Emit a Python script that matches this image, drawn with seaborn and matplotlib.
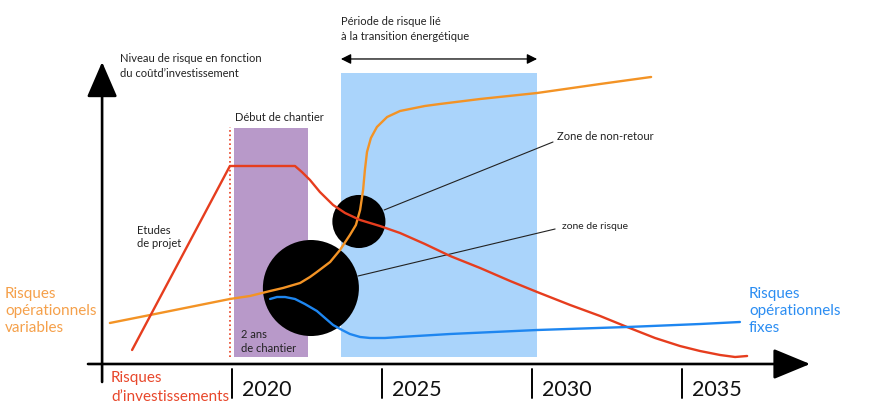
import matplotlib
matplotlib.use("Agg")
import matplotlib.pyplot as plt
import seaborn as sns
import pandas as pd

# schema risque / temps (x en annees, y en niveau de risque)
red_x = [2016.67, 2019.93, 2022.10, 2022.33, 2022.60, 2022.93, 2023.37, 2023.77, 2024.27,
         2024.93, 2025.60, 2026.43, 2027.27, 2028.27, 2029.27, 2030.17, 2031.27, 2032.27,
         2033.17, 2034.10, 2034.93, 2035.60, 2036.27, 2036.77, 2037.17]
red_y = [4.67, 66.0, 66.0, 64.0, 61.33, 57.33, 53.0, 50.33, 48.0,
         46.0, 43.67, 40.0, 36.0, 32.0, 27.67, 24.0, 19.67, 16.0,
         12.33, 8.67, 6.0, 4.33, 3.0, 2.33, 2.67]

orange_x = [2015.93, 2017.27, 2018.60, 2019.93, 2020.60, 2021.27, 2021.70, 2022.27, 2022.60,
            2022.83, 2023.27, 2023.60, 2023.93, 2024.13, 2024.27, 2024.37, 2024.43, 2024.50,
            2024.63, 2024.83, 2025.17, 2025.60, 2026.43, 2026.93, 2028.27, 2030.17, 2032.27,
            2033.97]
orange_y = [13.67, 16.33, 19.0, 21.67, 22.67, 24.33, 25.33, 27.0, 29.0,
            30.67, 34.0, 38.0, 43.0, 46.33, 51.33, 58.0, 64.67, 70.67,
            75.33, 79.0, 82.33, 84.33, 86.0, 86.67, 88.33, 90.33, 93.33,
            95.67]

blue_x = [2021.27, 2021.50, 2021.77, 2022.10, 2022.43, 2022.83, 2023.10, 2023.37, 2023.67,
          2023.93, 2024.27, 2024.60, 2025.10, 2025.60, 2027.27, 2030.17, 2033.17, 2035.60,
          2036.93]
blue_y = [21.67, 22.33, 22.33, 21.67, 20.0, 17.67, 15.33, 13.0, 11.33,
          10.0, 9.0, 8.67, 8.67, 9.0, 10.0, 11.33, 12.33, 13.33,
          14.0]

# zones (cercles noirs)
zone_x = [2022.63, 2024.23]
zone_y = [25.33, 47.5]
zone_size = [4780, 1460]

years = [2020, 2025, 2030, 2035]
chantier = (2020.07, 2022.53)
transition = (2023.63, 2030.17)

RED = "#e63d1e"
ORANGE = "#f39325"
BLUE = "#1e86f0"

sns.set_theme(style="white")
plt.rcParams['font.family'] = ['Lato', 'DejaVu Sans']

fig = plt.figure(figsize=(8.75, 4.09), dpi=100)
ax = fig.add_axes([0, 0, 1, 1])
ax.set_xlim(2012.267, 2041.433)
ax.set_ylim(-15, 121.33)
ax.axis("off")

# zones colorees
ax.bar(chantier[0], 78.67 - 2.33, width=chantier[1] - chantier[0], bottom=2.33,
       align="edge", color="#b899c9", linewidth=0, zorder=1)
ax.bar(transition[0], 97.0 - 2.33, width=transition[1] - transition[0], bottom=2.33,
       align="edge", color="#aad4fb", linewidth=0, zorder=1)
ax.plot([2019.93, 2019.93], [2.33, 79.0], ls=":", color=RED, lw=1.2, zorder=2)

# cercles
sns.scatterplot(x=zone_x, y=zone_y, s=zone_size, color="black", linewidth=0,
                ax=ax, zorder=3, legend=False)
ax.plot([2024.2, 2030.77], [29.33, 45.0], color="#222222", lw=0.8, zorder=4)
ax.plot([2025.07, 2030.70], [51.33, 74.0], color="#222222", lw=0.8, zorder=4)

# courbes
df = pd.concat([
    pd.DataFrame({"x": orange_x, "y": orange_y, "serie": "orange"}),
    pd.DataFrame({"x": red_x, "y": red_y, "serie": "red"}),
    pd.DataFrame({"x": blue_x, "y": blue_y, "serie": "blue"}),
])
sns.lineplot(data=df, x="x", y="y", hue="serie", sort=False, estimator=None,
             palette={"orange": ORANGE, "red": RED, "blue": BLUE},
             lw=1.7, ax=ax, legend=False, zorder=5)

# axes fleches
ax.annotate("", xy=(2015.67, 100.67), xytext=(2015.67, -6),
            arrowprops=dict(arrowstyle="-|>,head_length=2.2,head_width=0.95",
                            mutation_scale=10, color="black", lw=1.9,
                            shrinkA=0, shrinkB=0), zorder=6)
ax.annotate("", xy=(2039.27, 0), xytext=(2015.2, 0),
            arrowprops=dict(arrowstyle="-|>,head_length=2.3,head_width=0.95",
                            mutation_scale=10, color="black", lw=1.9,
                            shrinkA=0, shrinkB=0), zorder=6)
ax.annotate("", xy=(transition[1], 101.67), xytext=(transition[0], 101.67),
            arrowprops=dict(arrowstyle="<|-|>,head_length=0.6,head_width=0.3",
                            mutation_scale=10, color="black", lw=0.9,
                            shrinkA=0, shrinkB=0))

for yr in years:
    ax.plot([yr, yr], [-1.67, -11.33], color="black", lw=1.4)
    ax.text(yr + 0.33, -8.67, str(yr), fontsize=15.5, color="#111111", va="center", ha="left")

# textes
small = dict(fontsize=8, color="#222222", ha="left", va="center")
ax.text(2016.27, 99.33, "Niveau de risque en fonction\ndu coûtd’investissement",
        linespacing=1.35, **small)
ax.text(2023.63, 111.67, "Période de risque lié\nà la transition énergétique",
        linespacing=1.35, **small)
ax.text(2020.1, 82.33, "Début de chantier", **small)
ax.text(2016.83, 42.33, "Etudes\nde projet", linespacing=1.3, **small)
ax.text(2020.3, 7.5, "2 ans\nde chantier", linespacing=1.25, **small)
ax.text(2030.83, 75.67, "Zone de non-retour", **small)
ax.text(2031.0, 45.67, "zone de risque", fontsize=7.5, color="#222222", ha="left", va="center")

big = dict(fontsize=11, ha="left", va="center", linespacing=1.3)
ax.text(2012.43, 17.67, "Risques\nopérationnels\nvariables", color="#f5a04a", **big)
ax.text(2037.23, 17.67, "Risques\nopérationnels\nfixes", color="#2b8df2", **big)
ax.text(2015.97, -7.83, "Risques\nd’investissements", color="#e8472b",
        fontsize=11, ha="left", va="center", linespacing=1.4)

fig.savefig("out.png", dpi=100)
